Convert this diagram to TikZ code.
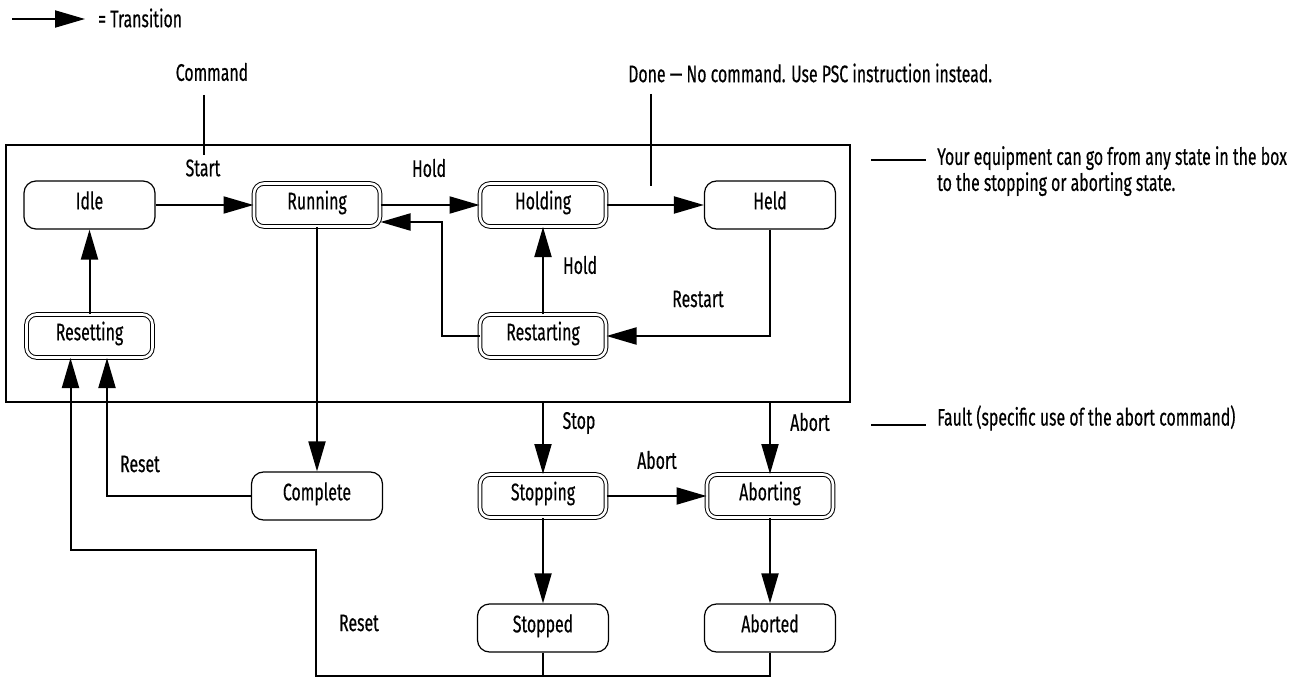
\documentclass[tikz,border=0pt]{standalone}
\usepackage{fontspec}
\setmainfont[FakeStretch=0.66,FakeBold=0.4]{Fira Sans}
\usetikzlibrary{arrows.meta}
\newcommand\lbl{\fontsize{24}{26}\selectfont}
\tikzset{
  st/.style={draw, line width=1.2pt, rounded corners=12pt, minimum width=131pt, minimum height=48pt, inner sep=0pt, font=\lbl, text height=15pt, text depth=6.4pt},
  dst/.style={st, double, double distance=2.6pt, line width=1pt, minimum width=126pt, minimum height=43pt, rounded corners=10pt},
  arr/.style={line width=2pt, -{Triangle[length=30pt,width=17pt]}},
  ln/.style={line width=2pt},
  lab/.style={font=\lbl, inner sep=0pt}
}
\begin{document}
\begin{tikzpicture}[x=1pt,y=-1pt]
\useasboundingbox (0,0) rectangle (1302,677);
% frame
\node[draw, line width=2pt, minimum width=844pt, minimum height=257pt, inner sep=0pt] (box) at (428,273.5) {};
% states
\node[st]  (idle)       at (89.5,205) {Idle};
\node[dst] (running)    at (317,205) {Running};
\node[dst] (holding)    at (543,205) {Holding};
\node[st]  (held)       at (770,205) {Held};
\node[dst] (resetting)  at (89.5,336) {Resetting};
\node[dst] (restarting) at (543,336) {Restarting};
\node[st]  (complete)   at (317,496) {Complete};
\node[dst] (stopping)   at (543,496) {Stopping};
\node[dst] (aborting)   at (770,496) {Aborting};
\node[st]  (stopped)    at (543,628) {Stopped};
\node[st]  (aborted)    at (770,628) {Aborted};
% labels
\node[lab] (lstart) at (203,168) {Start};
\node[lab] (lhold1) at (429,168) {Hold};
\node[lab] (lhold2) at (580,265) {Hold};
\node[lab] (lrestart) at (698,299) {Restart};
\node[lab] (lreset1) at (140,464) {Reset};
\node[lab] (lreset2) at (359,623) {Reset};
\node[lab] (lstop) at (579,423) {Stop};
\node[lab] (labort1) at (810,422) {Abort};
\node[lab] (labort2) at (657,460) {Abort};
\node[lab] (cmd) at (212,72) {Command};
\node[lab, anchor=west] (done) at (628,73) {Done \textemdash\ No command. Use PSC instruction instead.};
\node[lab, anchor=north west, align=left] (note) at (937,146) {Your equipment can go from any state in the box\\to the stopping or aborting state.};
\node[lab, anchor=west] (fault) at (937,418) {Fault (specific use of the abort command)};
\node[lab, anchor=west] (trans) at (98,18) {= Transition};
% legend
\coordinate (lg) at (12,19);
\draw[arr] (lg) -- ([xshift=-13pt,yshift=-1pt]trans.west);
% annotation lines
\draw[ln] (204,95) -- (204,155);
\draw[ln] (651,94) -- (651,186);
\draw[line width=1.6pt] ([xshift=-66pt]note.north west |- 0,160) -- ([xshift=-11pt]note.north west |- 0,160);
\draw[line width=1.6pt] ([xshift=-66pt]fault.west |- 0,425) -- ([xshift=-11pt]fault.west |- 0,425);
% transitions
\draw[arr] (idle) -- (running);
\draw[arr] (running) -- (holding);
\draw[arr] (holding) -- (held);
\draw[arr] (held.south) |- (restarting.east);
\draw[arr] (restarting.north) -- (holding.south);
\draw[arr] (restarting.west) -- ++(-38,0) |- ([yshift=-17pt]running.east);
\draw[arr] (resetting.north) -- (idle.south);
\draw[arr] (running.south) -- (complete.north);
\draw[arr] (complete.west) -| ([xshift=17.5pt]resetting.south);
\draw[arr] (stopping.north |- box.south) -- (stopping.north);
\draw[arr] (aborting.north |- box.south) -- (aborting.north);
\draw[arr] (stopping) -- (aborting);
\draw[arr] (stopping.south) -- (stopped.north);
\draw[arr] (aborting.south) -- (aborted.north);
\draw[ln] (stopped.south) -- ++(0,23);
\draw[arr] (aborted.south) -- ++(0,23) -| (316,550) -| ([xshift=-19pt]resetting.south);
\end{tikzpicture}
\end{document}
